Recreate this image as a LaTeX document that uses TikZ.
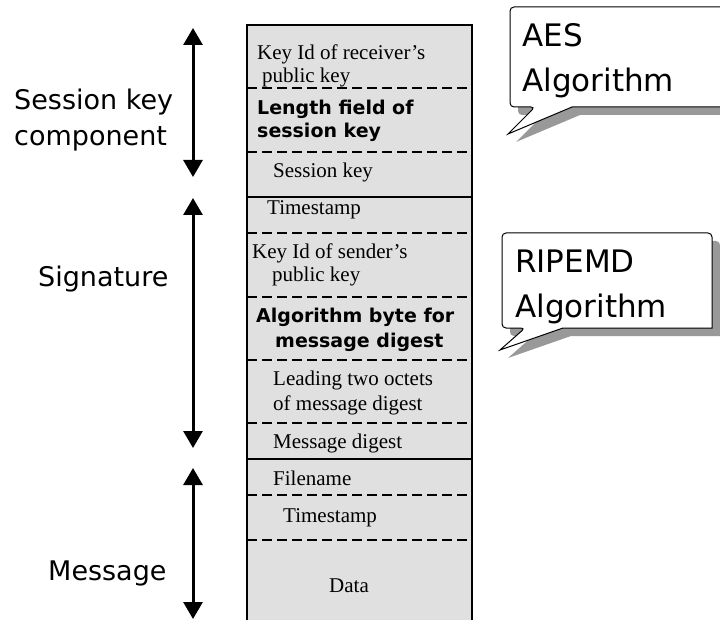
\documentclass[tikz,border=0pt]{standalone}
\usepackage{fontspec}
\setmainfont{Liberation Serif}
\newfontfamily\sansfont{DejaVu Sans}
\usetikzlibrary{arrows.meta}

\begin{document}
\begin{tikzpicture}[x=1pt,y=-1pt,
 field/.style={anchor=base west,inner sep=0pt,font=\fontsize{21}{25}\selectfont},
 boldfield/.style={anchor=base west,inner sep=0pt,font=\sansfont\bfseries\fontsize{19}{23}\selectfont},
 part/.style={anchor=base west,inner sep=0pt,font=\sansfont\fontsize{27}{31}\selectfont},
 bubbletext/.style={anchor=base west,inner sep=0pt,font=\sansfont\fontsize{31}{36}\selectfont},
 span/.style={{Triangle[width=19pt,length=17pt]}-{Triangle[width=19pt,length=17pt]},line width=3pt},
 sep/.style={line width=1.5pt,dash pattern=on 10pt off 5pt},
 callout/.style={draw=black,line width=1pt,fill=white},
 shade/.style={fill=black!40}]
 \useasboundingbox (0,0) rectangle (720,620);
 \clip (0,0) rectangle (720,620);

 % packet layout
 \fill[black!12] (247,25) rectangle (472,630);
 \draw[line width=2pt] (247,630) -- (247,25) -- (472,25) -- (472,630);
 \draw[line width=2pt] (247,197) -- (472,197);
 \draw[line width=2pt] (247,459) -- (472,459);
 \foreach \y in {88,152,233,297,360,423,495,540}
  \draw[sep] (247,\y) -- (472,\y);

 \node[field] (rkey1) at (257,60) {Key Id of receiver's};
 \node[field] (rkey2) at (262,83) {public key};
 \node[boldfield] (len1) at (257,115) {Length field of};
 \node[boldfield] (len2) at (257,138) {session key};
 \node[field] (skey) at (273,178) {Session key};
 \node[field] (tstamp1) at (267,215) {Timestamp};
 \node[field] (skid1) at (252,259) {Key Id of sender's};
 \node[field] (skid2) at (272,282) {public key};
 \node[boldfield] (algo1) at (256,322) {Algorithm byte for};
 \node[boldfield] (algo2) at (275,347) {message digest};
 \node[field] (lead1) at (273,385) {Leading two octets};
 \node[field] (lead2) at (273,410) {of message digest};
 \node[field] (mdig) at (273,448) {Message digest};
 \node[field] (fname) at (273,485) {Filename};
 \node[field] (tstamp2) at (283,522) {Timestamp};
 \node[field] (data) at (329,592) {Data};

 % parts on the left
 \node[part] (sess1) at (14,110) {Session key};
 \node[part] (sess2) at (14,146) {component};
 \node[part] (sig) at (38,287) {Signature};
 \node[part] (msg) at (48,580) {Message};

 \coordinate (sesstop) at (193,28);
 \coordinate (sessbot) at (193,177);
 \coordinate (sigtop) at (193,198);
 \coordinate (sigbot) at (193,448);
 \coordinate (msgtop) at (193,468);
 \coordinate (msgbot) at (193,619);
 \draw[span] (sesstop) -- (sessbot);
 \draw[span] (sigtop) -- (sigbot);
 \draw[span] (msgtop) -- (msgbot);

 % callouts
 \fill[shade,shift={(8,8)}] (508,134) -- (572,107) -- (730,107) [rounded corners=4pt] -- (730,7) -- (510,7) -- (510,107) -- (535,107) [sharp corners] -- cycle;
 \filldraw[callout] (508,134) -- (572,107) -- (730,107) [rounded corners=4pt] -- (730,7) -- (510,7) -- (510,107) -- (535,107) [sharp corners] -- cycle;
 \node[bubbletext] (aes1) at (522,47) {AES};
 \node[bubbletext] (aes2) at (522,92) {Algorithm};

 \fill[shade,shift={(8,8)}] (500,350) -- (563,328) -- (712,328) [rounded corners=4pt] -- (712,233) -- (502,233) -- (502,328) -- (525,328) [sharp corners] -- cycle;
 \filldraw[callout] (500,350) -- (563,328) -- (712,328) [rounded corners=4pt] -- (712,233) -- (502,233) -- (502,328) -- (525,328) [sharp corners] -- cycle;
 \node[bubbletext] (rip1) at (515,273) {RIPEMD};
 \node[bubbletext] (rip2) at (515,317) {Algorithm};
\end{tikzpicture}
\end{document}
